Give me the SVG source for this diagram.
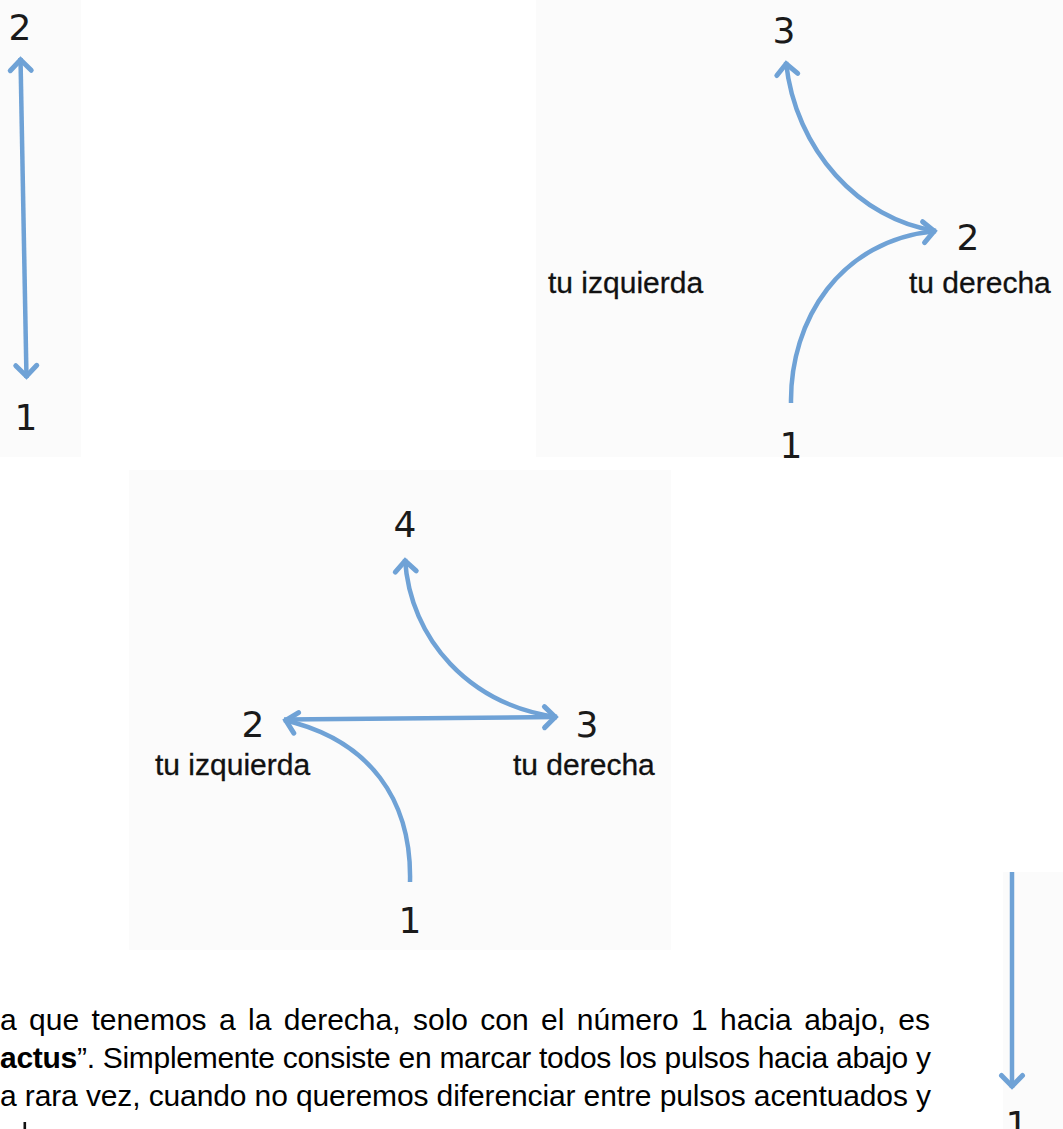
<svg xmlns="http://www.w3.org/2000/svg" width="1063" height="1129" viewBox="0 0 1063 1129">
<style>
.bg{fill:#fbfbfb}
.num{font-family:"DejaVu Sans","Open Sans",sans-serif;font-size:36px;fill:#1a1a1a;text-anchor:middle}
.lbl{font-family:"Liberation Sans",Arial,sans-serif;font-size:30px;fill:#111;stroke:#111;stroke-width:0.3}
.body{font-family:"Liberation Sans",Arial,sans-serif;font-size:30px;fill:#000}
.arr{fill:none;stroke:#6fa2d6;stroke-width:4.5;stroke-linecap:butt}
</style>
<defs>
<marker id="ah" viewBox="-18 -14 24 28" markerWidth="24" markerHeight="28" refX="0" refY="0" orient="auto-start-reverse" markerUnits="userSpaceOnUse" overflow="visible">
<path d="M-12.5,-10.5 L-1.8,0 L-12.5,10.5" fill="none" stroke="#6fa2d6" stroke-width="5" stroke-linejoin="miter" stroke-linecap="round"/>
</marker>
</defs>
<rect class="bg" x="0" y="0" width="81" height="457"/>
<rect class="bg" x="536" y="0" width="527" height="457"/>
<rect class="bg" x="129" y="470" width="542" height="480"/>
<rect class="bg" x="1003" y="872" width="60" height="257"/>
<g id="connectors">
<path class="arr" d="M20.5,58 L26.5,378" marker-start="url(#ah)" marker-end="url(#ah)"/>
<path class="arr" d="M791,403 C790,320 840,240 936,231" marker-end="url(#ah)"/>
<path class="arr" d="M936,231 C860,220 795,150 786,62" marker-end="url(#ah)"/>
<path class="arr" d="M410,882 C412,800 370,740 284,720" marker-end="url(#ah)"/>
<path class="arr" d="M284,719.5 L557,717" marker-end="url(#ah)"/>
<path class="arr" d="M557,717 C470,705 410,640 405,559" marker-end="url(#ah)"/>
<path class="arr" d="M1012,872 L1012,1088" marker-end="url(#ah)"/>
</g>
<g id="tl-2"><text class="num" x="20" y="40">2</text></g>
<g id="tl-1"><text class="num" x="26" y="430">1</text></g>
<g id="tr-3"><text class="num" x="784" y="43">3</text></g>
<g id="tr-2"><text class="num" x="968" y="250">2</text></g>
<g id="tr-1"><text class="num" x="791" y="458">1</text></g>
<g id="tr-izq"><text class="lbl" x="548" y="293">tu izquierda</text></g>
<g id="tr-der"><text class="lbl" x="909" y="293">tu derecha</text></g>
<g id="m-4"><text class="num" x="405" y="537">4</text></g>
<g id="m-2"><text class="num" x="253" y="737">2</text></g>
<g id="m-3"><text class="num" x="587" y="737">3</text></g>
<g id="m-1"><text class="num" x="410" y="933">1</text></g>
<g id="m-izq"><text class="lbl" x="155" y="775">tu izquierda</text></g>
<g id="m-der"><text class="lbl" x="513" y="775">tu derecha</text></g>
<g id="br-1"><text class="num" x="1017" y="1137">1</text></g>
<g id="paragraph">
<text class="body" x="0" y="1030" textLength="930" lengthAdjust="spacing" word-spacing="4">a que tenemos a la derecha, solo con el número 1 hacia abajo, es</text>
<text class="body" x="0" y="1068" textLength="931" lengthAdjust="spacing"><tspan font-weight="bold">actus</tspan>”. Simplemente consiste en marcar todos los pulsos hacia abajo y</text>
<text class="body" x="0" y="1106" textLength="931" lengthAdjust="spacing">a rara vez, cuando no queremos diferenciar entre pulsos acentuados y</text>
<rect x="23.5" y="1122" width="2.6" height="7" fill="#111"/>
</g>
</svg>
